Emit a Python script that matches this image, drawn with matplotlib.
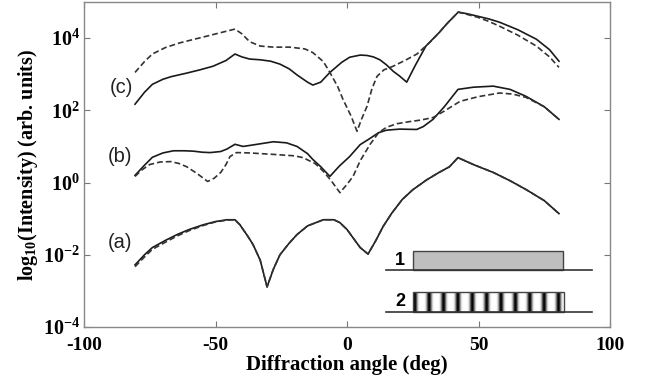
import numpy as np
import matplotlib
matplotlib.use("Agg")
import matplotlib.pyplot as plt

plt.rcParams['font.family'] = 'serif'
plt.rcParams['font.serif'] = ['Liberation Serif', 'DejaVu Serif']
plt.rcParams['mathtext.fontset'] = 'custom'
plt.rcParams['mathtext.rm'] = 'Liberation Serif'
plt.rcParams['mathtext.bf'] = 'Liberation Serif:bold'
plt.rcParams['mathtext.it'] = 'Liberation Serif:italic'

# ---- data (log10 intensity vs diffraction angle) ----
c_solid_x = [-80.6, -77, -74, -70, -67, -61, -56, -51, -46, -42.6, -40, -37, -33, -29, -25.5, -22, -19, -15, -13, -10,
             -6.5, -2, 1, 5, 7.6, 10, 12.5, 15, 17.6, 20, 22.7, 26, 30, 35, 38, 42.3, 46, 50, 54, 58, 65, 72, 77, 80.6]
c_solid_y = [2.17, 2.50, 2.72, 2.86, 2.93, 3.03, 3.12, 3.22, 3.38, 3.56, 3.48, 3.42, 3.40, 3.36, 3.28, 3.15, 2.98,
             2.78, 2.70, 2.78, 3.05, 3.33, 3.47, 3.53, 3.52, 3.48, 3.40, 3.26, 3.08, 2.95, 2.78, 3.25, 3.78, 4.15,
             4.40, 4.72, 4.67, 4.60, 4.53, 4.44, 4.23, 3.97, 3.68, 3.36]

c_dash_x = [-80.6, -77, -74, -69, -63.5, -58, -53, -47, -42.6, -40, -37, -33, -28, -21.7, -16, -13, -9, -6.5, -3.5,
            -1.5, 1.5, 3.8, 5.5, 7.6, 9.5, 11.4, 14, 17.5, 22, 26.6, 31.6, 35, 38, 42.3, 46, 50, 54, 58, 65, 72, 77, 80.6]
c_dash_y = [3.05, 3.35, 3.56, 3.74, 3.87, 3.97, 4.06, 4.17, 4.25, 4.12, 3.90, 3.78, 3.75, 3.75, 3.70, 3.60, 3.35, 3.05,
            2.65, 2.30, 1.85, 1.42, 1.75, 2.11, 2.60, 2.94, 3.12, 3.22, 3.38, 3.56, 3.89, 4.15, 4.40, 4.72, 4.65, 4.57,
            4.46, 4.33, 4.08, 3.78, 3.48, 3.19]

b_solid_x = [-80.6, -77, -74, -70, -66, -62, -58.5, -55, -52, -48, -45.6, -42.6, -39.5, -35, -28, -23, -19, -15, -13,
             -10, -6.5, -3, 1, 5, 8.7, 12, 15, 20, 26.5, 29, 32.7, 37, 42.2, 48, 55.6, 62, 68, 75, 80.6]
b_solid_y = [0.20, 0.48, 0.70, 0.82, 0.88, 0.88, 0.87, 0.84, 0.83, 0.86, 0.93, 1.06, 1.00, 1.05, 1.13, 1.10, 1.00, 0.80,
             0.64, 0.44, 0.17, 0.45, 0.72, 1.05, 1.22, 1.38, 1.45, 1.48, 1.47, 1.55, 1.75, 2.10, 2.58, 2.64, 2.67, 2.58,
             2.39, 2.10, 1.75]

b_dash_x = [-80.6, -78, -75, -71, -67, -64, -61, -57, -53, -50.5, -48, -46, -44.5, -42, -37, -28, -20, -16.7, -12, -9,
            -6, -2.7, 0, 2.3, 5, 8.7, 12, 15, 19, 24, 28, 32.7, 37, 43, 50, 58, 63, 68, 75, 80.6]
b_dash_y = [0.17, 0.35, 0.50, 0.57, 0.58, 0.53, 0.44, 0.25, 0.03, 0.12, 0.28, 0.50, 0.72, 0.83, 0.82, 0.78, 0.74, 0.69,
            0.52, 0.31, 0.05, -0.28, -0.05, 0.17, 0.60, 1.05, 1.38, 1.53, 1.63, 1.69, 1.73, 1.80, 1.98, 2.25, 2.38, 2.48,
            2.45, 2.36, 2.10, 1.75]

a_solid_x = [-80.6, -77, -74, -69, -64.6, -60, -54.7, -50, -45.6, -42.6, -40.7, -37.6, -35.7, -33, -30.4, -28, -25.5,
             -22, -19, -15, -9, -5, -2.7, 0, 2.3, 5, 8, 11, 13.7, 17, 21, 25, 30.4, 35, 39, 42.2, 48, 55.6, 62, 68, 75,
             80.6]
a_solid_y = [-2.28, -2.00, -1.80, -1.60, -1.44, -1.30, -1.17, -1.08, -1.03, -1.03, -1.17, -1.50, -1.72, -2.15, -2.89,
             -2.40, -2.00, -1.68, -1.44, -1.20, -1.03, -1.03, -1.11, -1.30, -1.53, -1.80, -1.98, -1.60, -1.22, -0.85,
             -0.47, -0.20, 0.08, 0.28, 0.44, 0.69, 0.50, 0.28, 0.05, -0.19, -0.50, -0.86]

a_dash_x = a_solid_x
a_dash_y = [-2.33, -2.06, -1.85, -1.65, -1.48, -1.33, -1.19, -1.09, -1.04, -1.03, -1.17, -1.50, -1.72, -2.15, -2.89,
            -2.40, -2.00, -1.68, -1.44, -1.20, -1.03, -1.03, -1.11, -1.30, -1.53, -1.80, -1.98, -1.60, -1.22, -0.85,
            -0.47, -0.20, 0.08, 0.28, 0.44, 0.69, 0.50, 0.28, 0.05, -0.19, -0.50, -0.86]

curve_labels = ['(c)', '(b)', '(a)']
label_logy = [2.64, 0.72, -1.67]

xticks = [-100, -50, 0, 50, 100]
yticks_exp = [-4, -2, 0, 2, 4]

# ---- figure ----
fig = plt.figure(figsize=(6.46, 3.82), dpi=100)
ax = fig.add_axes([84/646, 1-327/382, (610-84)/646, (327-2)/382])

line_col = '#1a1a1a'
for xs, ys in [(c_solid_x, c_solid_y), (b_solid_x, b_solid_y), (a_solid_x, a_solid_y)]:
    ax.plot(xs, 10**np.array(ys), color=line_col, lw=1.2, solid_joinstyle='round')
for xs, ys in [(c_dash_x, c_dash_y), (b_dash_x, b_dash_y), (a_dash_x, a_dash_y)]:
    ax.plot(xs, 10**np.array(ys), color='#333333', lw=1.2, ls=(0, (3.5, 1.8)))

ax.set_yscale('log')
ax.set_xlim(-100, 100)
ax.set_ylim(1e-4, 1e5)
ax.set_xticks(xticks)
ax.set_xticklabels([str(t) for t in xticks], fontsize=14, fontweight='bold')
ax.set_yticks([10.0**e for e in yticks_exp])
ax.set_yticklabels([r'$\mathbf{10^{%d}}$' % e for e in yticks_exp], fontsize=14.5)
ax.yaxis.set_minor_locator(matplotlib.ticker.NullLocator())
ax.tick_params(direction='in', top=True, right=True, length=4, width=0.8, color='#777777')
ax.tick_params(axis='x', pad=7)
ax.tick_params(axis='y', pad=3)
for s in ax.spines.values():
    s.set_color('#888888')
    s.set_linewidth(1.0)

ax.set_xlabel('Diffraction angle (deg)', fontsize=15, fontweight='bold', labelpad=1)
ax.set_ylabel(r'log$_{\mathbf{10}}$(Intensity) (arb. units)', fontsize=14.5, fontweight='bold', labelpad=2)

for lab, ly in zip(curve_labels, label_logy):
    ax.text(-81.5, 10**ly, lab, ha='right', va='center', fontsize=14.5, family='Liberation Sans', color='#222222')

# ---- inset schematic ----
ins = fig.add_axes([380/646, 1-318/382, 220/646, 73/382])
ins.axis('off')
ins.plot([386, 592], [270, 270], color='#333333', lw=1.2)
ins.plot([386, 592], [312, 312], color='#333333', lw=1.2)
ins.add_patch(plt.Rectangle((413, 251), 150, 19, facecolor='#bfbfbf', edgecolor='#444444', lw=1.0))
xs = np.linspace(0, 1, 600)
pattern = 1 - (0.5 + 0.5*np.cos(2*np.pi*(xs*150 - 1.7)/14.3))**3
ins.imshow(pattern[None, :], extent=(413, 564, 312, 292), cmap='gray', vmin=0, vmax=1, aspect='auto',
           interpolation='bilinear')
ins.add_patch(plt.Rectangle((413, 292), 151, 20, facecolor='none', edgecolor='#444444', lw=1.0))
ins.set_xlim(380, 600)
ins.set_ylim(318, 245)
ins.text(400, 260, '1', ha='center', va='center', fontsize=13, fontweight='bold', family='Liberation Sans')
ins.text(400, 301, '2', ha='center', va='center', fontsize=13, fontweight='bold', family='Liberation Sans')

fig.savefig('out.png', dpi=100)
